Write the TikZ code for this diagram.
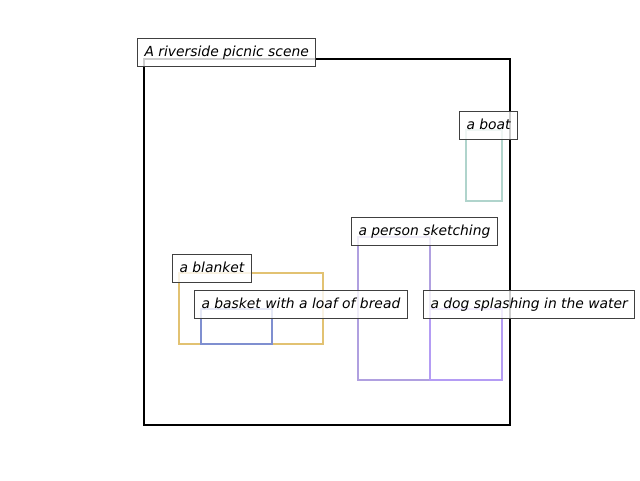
\documentclass[tikz,border=0pt]{standalone}
\usepackage{fontspec}
\setsansfont{DejaVu Sans}
\definecolor{blanketcol}{HTML}{E2C272}
\definecolor{basketcol}{HTML}{7F8FD0}
\definecolor{personcol}{HTML}{B0A0E0}
\definecolor{dogcol}{HTML}{B49CF4}
\definecolor{boatcol}{HTML}{B0D4CC}
\tikzset{
  tag/.style={draw=black!75, line width=0.75pt, fill=white, fill opacity=0.8, text opacity=1,
    anchor=south west, inner xsep=5.25pt, inner ysep=0pt, minimum height=21pt,
    text height=8pt, text depth=2.5pt, font=\sffamily\itshape\fontsize{10.4}{12}\selectfont},
  region/.style={line width=1.5pt}
}
\begin{document}
\begin{tikzpicture}[x=0.75pt,y=-0.75pt]
\useasboundingbox (0,0) rectangle (640,480);

\draw[line width=1.5pt] (144,59) rectangle (510,425);

\draw[region,blanketcol] (179,273) rectangle (323,344);
\draw[region,basketcol] (201,309) rectangle (272,344);
\draw[region,personcol] (358,237) rectangle (430,380);
\draw[region,dogcol] (430,309) rectangle (502,380);
\draw[region,boatcol] (466,130) rectangle (502,201);

\path (137,67) node[tag](scene){A riverside picnic scene} (459,140) node[tag](boat){a boat} (351,246) node[tag](person){a person sketching} (172,283) node[tag](blanket){a blanket} (194,319) node[tag](basket){a basket with a loaf of bread} (423,319) node[tag](dog){a dog splashing in the water};
\end{tikzpicture}
\end{document}
